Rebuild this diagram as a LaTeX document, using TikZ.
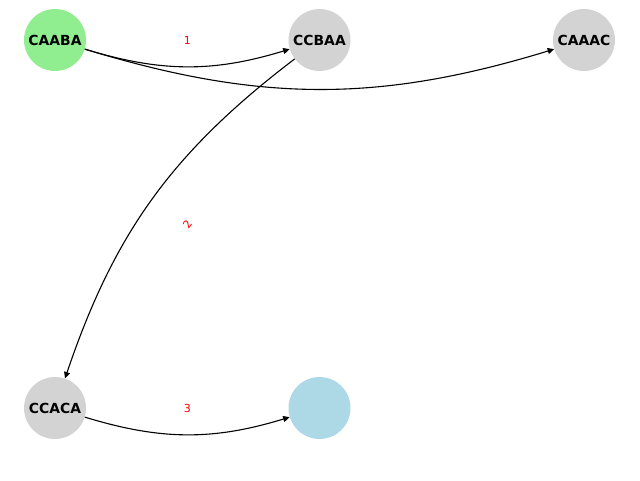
\documentclass[tikz,border=0pt]{standalone}
\usepackage{fontspec}
\setmainfont{DejaVu Sans}
\usetikzlibrary{arrows.meta,positioning}
\definecolor{lightgreen}{HTML}{90EE90}
\definecolor{lightgraycol}{HTML}{D3D3D3}
\definecolor{lightbluecol}{HTML}{ADD8E6}
\tikzset{
  state/.style={circle,minimum size=62pt,inner sep=0pt,
    font=\fontsize{13.9}{16}\selectfont\bfseries},
  link/.style={-{Triangle[length=6.5pt,width=6pt]},line width=1.1pt},
  weight/.style={text=red,font=\fontsize{11}{13}\selectfont}
}

\begin{document}
\begin{tikzpicture}[x=1pt,y=1pt,on grid,node distance=368pt and 264.5pt]
  \useasboundingbox (0,0) rectangle (640,-480);
  % states
  \node[state,fill=lightgreen] (caaba) at (55,-40) {CAABA};
  \node[state,fill=lightgraycol,right=of caaba] (ccbaa) {CCBAA};
  \node[state,fill=lightgraycol,right=of ccbaa] (caaac) {CAAAC};
  \node[state,fill=lightgraycol,below=of caaba] (ccaca) {CCACA};
  \node[state,fill=lightbluecol,right=of ccaca] (empty) {};
  % transitions
  \draw[link] (caaba) to[bend right=17] (ccbaa);
  \draw[link] (caaba) to[bend right=17] (caaac);
  \draw[link] (ccbaa) to[bend right=17] (ccaca);
  \draw[link] (ccaca) to[bend right=17] (empty);
  % weights
  \path (caaba) -- node[weight] {1} (ccbaa);
  \path (ccbaa) -- node[weight,sloped] {2} (ccaca);
  \path (ccaca) -- node[weight] {3} (empty);
\end{tikzpicture}
\end{document}
